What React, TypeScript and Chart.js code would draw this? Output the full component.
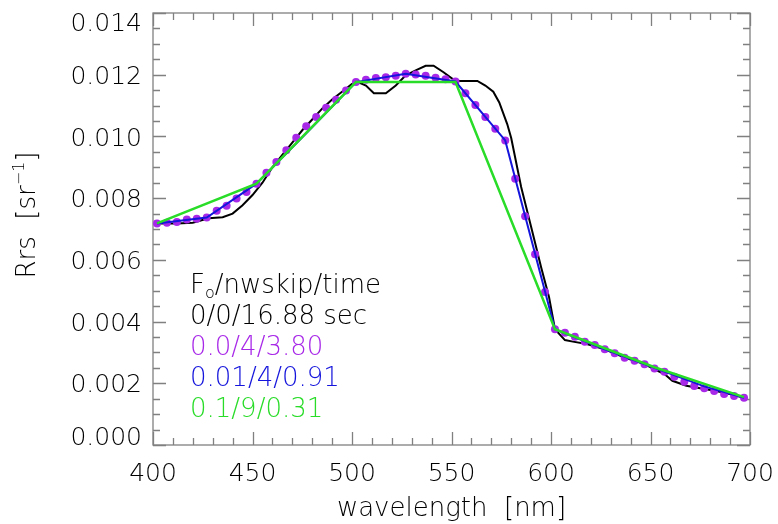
import React, { useEffect, useRef } from "react";
import { Chart, registerables } from "chart.js";

Chart.register(...registerables);

// ---------- data ----------
const xTicks = [400, 450, 500, 550, 600, 650, 700];
const yTicks = [0.0, 0.002, 0.004, 0.006, 0.008, 0.01, 0.012, 0.014];

// full run (F0=0, nwskip=0)
const blackWl = [402, 412, 420, 428, 435, 440, 445, 450, 455, 460, 465, 470, 475, 480, 485, 490, 495, 500, 503, 507, 511, 517, 522, 527, 532, 537, 541, 546, 551, 554, 563, 567, 571, 574, 578, 580, 585, 590, 595, 599, 602, 607, 611, 618, 627, 637, 647, 652, 657, 661, 668, 675, 683, 692, 697];
const blackRrs = [0.00718, 0.00718, 0.0072, 0.00735, 0.00738, 0.0075, 0.00777, 0.0081, 0.0085, 0.009, 0.0094, 0.0098, 0.0102, 0.01055, 0.0109, 0.0112, 0.01145, 0.0117, 0.01176, 0.01165, 0.0114, 0.0114, 0.01165, 0.01198, 0.01214, 0.01229, 0.01229, 0.01208, 0.01184, 0.0118, 0.0118, 0.01165, 0.01145, 0.0111, 0.0104, 0.00995, 0.00836, 0.00707, 0.00577, 0.0048, 0.00375, 0.0034, 0.00335, 0.00327, 0.0031, 0.00283, 0.00262, 0.00245, 0.0023, 0.00208, 0.00192, 0.00184, 0.00175, 0.00162, 0.00153];

// F0=0.0, nwskip=4 (dots)
const purpleWl = [402, 407, 412, 417, 422, 427, 432, 437, 442, 447, 452, 457, 462, 467, 472, 477, 482, 487, 492, 497, 502, 507, 512, 517, 522, 527, 532, 537, 542, 547, 552, 557, 562, 567, 572, 577, 582, 587, 592, 597, 602, 607, 612, 617, 622, 627, 632, 637, 642, 647, 652, 657, 662, 667, 672, 677, 682, 687, 692, 697];
const purpleRrs = [0.00718, 0.0072, 0.00723, 0.00731, 0.00733, 0.00737, 0.00759, 0.00775, 0.00799, 0.0082, 0.00847, 0.00882, 0.00917, 0.00955, 0.00996, 0.01033, 0.01063, 0.01093, 0.01119, 0.01149, 0.01176, 0.01184, 0.01189, 0.01192, 0.01197, 0.01203, 0.01201, 0.01197, 0.0119, 0.01185, 0.01178, 0.0114, 0.01102, 0.01063, 0.01025, 0.00987, 0.00863, 0.00741, 0.00618, 0.00496, 0.00375, 0.00364, 0.00351, 0.00335, 0.00324, 0.0031, 0.00297, 0.00283, 0.00273, 0.00262, 0.00248, 0.00237, 0.00221, 0.00205, 0.00191, 0.00184, 0.00175, 0.00165, 0.00159, 0.00153];

// F0=0.01, nwskip=4
const blueWl = [402, 427, 452, 477, 502, 527, 552, 577, 602, 627, 652, 677, 697];
const blueRrs = [0.00718, 0.00737, 0.00847, 0.0101, 0.01176, 0.01203, 0.01178, 0.00987, 0.00375, 0.0031, 0.0025, 0.0019, 0.00153];

// F0=0.1, nwskip=9
const greenWl = [402, 452, 502, 552, 602, 652, 697];
const greenRrs = [0.00718, 0.00847, 0.01176, 0.01176, 0.00375, 0.00252, 0.00155];

const legendHeader = ["F", "o", "/nwskip/time"];
const legendRows = ["0/0/16.88 sec", "0.0/4/3.80", "0.01/4/0.91", "0.1/9/0.31"];

// ---------- styles ----------
const C_BLACK = "#000000";
const C_PURPLE = "#a828e8";
const C_BLUE = "#1414dc";
const C_GREEN = "#28dc28";
const C_AXIS = "#808080";
const FONT = '"DejaVu Sans", sans-serif';
const W = "200";

const pts = (xs: number[], ys: number[]) => xs.map((x, i) => ({ x, y: ys[i] }));

const decorPlugin = {
  id: "decor",
  beforeDatasetsDraw(chart: any) {
    const { ctx, chartArea: a, scales } = chart;
    const xs = scales.x;
    const ys = scales.y;
    ctx.save();
    ctx.strokeStyle = C_AXIS;
    ctx.lineWidth = 1.3;
    ctx.strokeRect(a.left, a.top, a.right - a.left, a.bottom - a.top);
    for (let v = 400; v <= 700; v += 10) {
      const px = Math.round(xs.getPixelForValue(v)) + 0.5;
      const len = v % 50 === 0 ? 13 : 7;
      ctx.beginPath();
      ctx.moveTo(px, a.bottom);
      ctx.lineTo(px, a.bottom - len);
      ctx.moveTo(px, a.top);
      ctx.lineTo(px, a.top + len);
      ctx.stroke();
    }
    for (let k = 0; k <= 28; k++) {
      const v = k * 0.0005;
      const py = Math.round(ys.getPixelForValue(v)) + 0.5;
      const len = k % 4 === 0 ? 13 : 7;
      ctx.beginPath();
      ctx.moveTo(a.left, py);
      ctx.lineTo(a.left + len, py);
      ctx.moveTo(a.right, py);
      ctx.lineTo(a.right - len, py);
      ctx.stroke();
    }
    ctx.restore();
  },
  afterDraw(chart: any) {
    const { ctx, chartArea: a, scales } = chart;
    const xs = scales.x;
    const ys = scales.y;
    ctx.save();
    ctx.fillStyle = "#000";
    const tf = 25;
    const capH = tf * 0.73;
    ctx.font = `${W} ${tf}px ${FONT}`;
    ctx.textAlign = "right";
    ctx.textBaseline = "alphabetic";
    yTicks.forEach((v) => {
      const py = ys.getPixelForValue(v);
      let base = py + capH / 2;
      base = Math.max(a.top + capH, Math.min(a.bottom, base));
      ctx.fillText(v.toFixed(3), a.left - 11, base);
    });
    ctx.textAlign = "center";
    xTicks.forEach((v) => {
      ctx.fillText(String(v), xs.getPixelForValue(v), 481);
    });
    ctx.font = `${W} 26px ${FONT}`;
    ctx.fillText("wavelength  [nm]", (a.left + a.right) / 2, 516);
    // y title with superscript
    ctx.save();
    ctx.translate(35, 215);
    ctx.rotate(-Math.PI / 2);
    const p1 = "Rrs  [sr";
    const sup = "\u22121";
    const p3 = "]";
    ctx.font = `${W} 26px ${FONT}`;
    const w1 = ctx.measureText(p1).width;
    const w3 = ctx.measureText(p3).width;
    ctx.font = `${W} 16px ${FONT}`;
    const w2 = ctx.measureText(sup).width;
    const total = w1 + w2 + w3;
    const x0 = -total / 2;
    ctx.textAlign = "left";
    ctx.font = `${W} 26px ${FONT}`;
    ctx.fillText(p1, x0, 0);
    ctx.font = `${W} 16px ${FONT}`;
    ctx.fillText(sup, x0 + w1, -11);
    ctx.font = `${W} 26px ${FONT}`;
    ctx.fillText(p3, x0 + w1 + w2, 0);
    ctx.restore();
    // legend text
    ctx.textAlign = "left";
    const lx = 190;
    let by = 293;
    ctx.font = `${W} 26px ${FONT}`;
    ctx.fillStyle = "#000";
    const wF = ctx.measureText(legendHeader[0]).width;
    ctx.fillText(legendHeader[0], lx, by);
    ctx.font = `${W} 16px ${FONT}`;
    const wo = ctx.measureText(legendHeader[1]).width;
    ctx.fillText(legendHeader[1], lx + wF, by + 5);
    ctx.font = `${W} 26px ${FONT}`;
    ctx.fillText(legendHeader[2], lx + wF + wo, by);
    const colors = [C_BLACK, C_PURPLE, C_BLUE, C_GREEN];
    legendRows.forEach((t, i) => {
      by += 31;
      ctx.fillStyle = colors[i];
      ctx.fillText(t, lx, by);
    });
    ctx.restore();
  },
};

export default function App() {
  const ref = useRef<HTMLCanvasElement | null>(null);
  useEffect(() => {
    if (!ref.current) return;
    const chart = new Chart(ref.current, {
      type: "line",
      data: {
        datasets: [
          {
            data: pts(greenWl, greenRrs),
            borderColor: C_GREEN,
            borderWidth: 2.5,
            pointRadius: 0,
            order: 0,
          },
          {
            data: pts(blueWl, blueRrs),
            borderColor: C_BLUE,
            borderWidth: 2,
            pointRadius: 0,
            order: 1,
          },
          {
            data: pts(purpleWl, purpleRrs),
            showLine: false,
            pointRadius: 4,
            pointBackgroundColor: C_PURPLE,
            pointBorderColor: C_PURPLE,
            pointBorderWidth: 0,
            order: 2,
          },
          {
            data: pts(blackWl, blackRrs),
            borderColor: C_BLACK,
            borderWidth: 2,
            pointRadius: 0,
            order: 3,
          },
        ],
      },
      options: {
        animation: false,
        responsive: false,
        events: [],
        layout: { padding: { left: 0, top: 13, right: 28, bottom: 0 } },
        plugins: { legend: { display: false }, tooltip: { enabled: false } },
        scales: {
          x: {
            type: "linear",
            min: 400,
            max: 700,
            grid: { display: false, drawTicks: false },
            border: { display: false },
            ticks: { display: false, stepSize: 50 },
            afterFit: (s: any) => {
              s.height = 79;
            },
          },
          y: {
            type: "linear",
            min: 0,
            max: 0.014,
            grid: { display: false, drawTicks: false },
            border: { display: false },
            ticks: { display: false, stepSize: 0.002 },
            afterFit: (s: any) => {
              s.width = 153;
            },
          },
        },
      },
      plugins: [decorPlugin],
    });
    return () => chart.destroy();
  }, []);
  return (
    <canvas
      ref={ref}
      width={778}
      height={524}
      style={{ position: "absolute", left: 0, top: 0, width: 778, height: 524, display: "block" }}
    />
  );
}
